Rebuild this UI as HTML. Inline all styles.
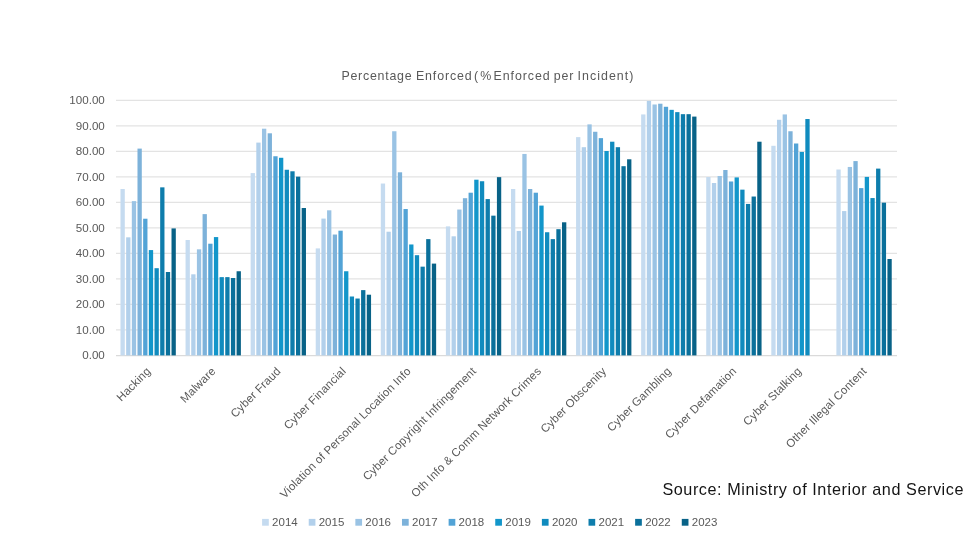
<!DOCTYPE html>
<html lang="en"><head><meta charset="utf-8"><title>Percentage Enforced</title>
<style>html,body{margin:0;padding:0;background:#fff}body{width:975px;height:548px;overflow:hidden}svg{display:block;will-change:transform;opacity:0.999}text{font-family:"Liberation Sans",Arial,sans-serif}</style></head><body>
<svg width="975" height="548" viewBox="0 0 975 548">
<rect width="975" height="548" fill="#ffffff"/>
<g stroke="#e3e3e3" stroke-width="1.1" shape-rendering="auto">
<line x1="116.0" x2="897.0" y1="329.90" y2="329.90"/>
<line x1="116.0" x2="897.0" y1="304.40" y2="304.40"/>
<line x1="116.0" x2="897.0" y1="278.90" y2="278.90"/>
<line x1="116.0" x2="897.0" y1="253.40" y2="253.40"/>
<line x1="116.0" x2="897.0" y1="227.90" y2="227.90"/>
<line x1="116.0" x2="897.0" y1="202.40" y2="202.40"/>
<line x1="116.0" x2="897.0" y1="176.90" y2="176.90"/>
<line x1="116.0" x2="897.0" y1="151.40" y2="151.40"/>
<line x1="116.0" x2="897.0" y1="125.90" y2="125.90"/>
<line x1="116.0" x2="897.0" y1="100.40" y2="100.40"/>
</g>
<line x1="116.0" x2="897.0" y1="355.59999999999997" y2="355.59999999999997" stroke="#dadada" stroke-width="1.1"/>
<g>
<rect x="120.48" y="189.01" width="4.3" height="166.39" fill="#c5dbf0"/>
<rect x="126.15" y="237.33" width="4.3" height="118.06" fill="#b2d0eb"/>
<rect x="131.82" y="201.12" width="4.3" height="154.27" fill="#9ac3e4"/>
<rect x="137.49" y="148.60" width="4.3" height="206.80" fill="#7db2da"/>
<rect x="143.16" y="218.72" width="4.3" height="136.68" fill="#52a3d6"/>
<rect x="148.83" y="250.08" width="4.3" height="105.31" fill="#1296ca"/>
<rect x="154.50" y="268.19" width="4.3" height="87.21" fill="#108bbe"/>
<rect x="160.17" y="187.35" width="4.3" height="168.04" fill="#0e7dac"/>
<rect x="165.84" y="272.01" width="4.3" height="83.39" fill="#0a709b"/>
<rect x="171.51" y="228.41" width="4.3" height="126.99" fill="#086287"/>
</g>
<g>
<rect x="185.56" y="240.01" width="4.3" height="115.39" fill="#c5dbf0"/>
<rect x="191.23" y="274.31" width="4.3" height="81.09" fill="#b2d0eb"/>
<rect x="196.90" y="249.32" width="4.3" height="106.08" fill="#9ac3e4"/>
<rect x="202.57" y="214.13" width="4.3" height="141.27" fill="#7db2da"/>
<rect x="208.24" y="243.71" width="4.3" height="111.69" fill="#52a3d6"/>
<rect x="213.91" y="237.08" width="4.3" height="118.32" fill="#1296ca"/>
<rect x="219.58" y="277.12" width="4.3" height="78.28" fill="#108bbe"/>
<rect x="225.25" y="277.12" width="4.3" height="78.28" fill="#0e7dac"/>
<rect x="230.92" y="278.01" width="4.3" height="77.39" fill="#0a709b"/>
<rect x="236.59" y="271.25" width="4.3" height="84.15" fill="#086287"/>
</g>
<g>
<rect x="250.64" y="173.08" width="4.3" height="182.32" fill="#c5dbf0"/>
<rect x="256.31" y="142.60" width="4.3" height="212.80" fill="#b2d0eb"/>
<rect x="261.98" y="128.70" width="4.3" height="226.69" fill="#9ac3e4"/>
<rect x="267.65" y="133.30" width="4.3" height="222.10" fill="#7db2da"/>
<rect x="273.32" y="156.25" width="4.3" height="199.15" fill="#52a3d6"/>
<rect x="278.99" y="157.78" width="4.3" height="197.62" fill="#1296ca"/>
<rect x="284.66" y="169.76" width="4.3" height="185.64" fill="#108bbe"/>
<rect x="290.33" y="171.29" width="4.3" height="184.11" fill="#0e7dac"/>
<rect x="296.00" y="176.65" width="4.3" height="178.75" fill="#0a709b"/>
<rect x="301.67" y="208.01" width="4.3" height="147.39" fill="#086287"/>
</g>
<g>
<rect x="315.73" y="248.40" width="4.3" height="107.00" fill="#c5dbf0"/>
<rect x="321.40" y="218.59" width="4.3" height="136.81" fill="#b2d0eb"/>
<rect x="327.07" y="210.31" width="4.3" height="145.09" fill="#9ac3e4"/>
<rect x="332.74" y="234.53" width="4.3" height="120.87" fill="#7db2da"/>
<rect x="338.41" y="230.70" width="4.3" height="124.69" fill="#52a3d6"/>
<rect x="344.08" y="271.25" width="4.3" height="84.15" fill="#1296ca"/>
<rect x="349.75" y="296.50" width="4.3" height="58.91" fill="#108bbe"/>
<rect x="355.42" y="298.53" width="4.3" height="56.87" fill="#0e7dac"/>
<rect x="361.09" y="290.12" width="4.3" height="65.28" fill="#0a709b"/>
<rect x="366.76" y="294.71" width="4.3" height="60.69" fill="#086287"/>
</g>
<g>
<rect x="380.81" y="183.53" width="4.3" height="171.87" fill="#c5dbf0"/>
<rect x="386.48" y="231.72" width="4.3" height="123.67" fill="#b2d0eb"/>
<rect x="392.15" y="131.25" width="4.3" height="224.15" fill="#9ac3e4"/>
<rect x="397.82" y="172.31" width="4.3" height="183.09" fill="#7db2da"/>
<rect x="403.49" y="209.03" width="4.3" height="146.37" fill="#52a3d6"/>
<rect x="409.16" y="244.47" width="4.3" height="110.92" fill="#1296ca"/>
<rect x="414.83" y="255.19" width="4.3" height="100.21" fill="#108bbe"/>
<rect x="420.50" y="266.66" width="4.3" height="88.74" fill="#0e7dac"/>
<rect x="426.17" y="239.12" width="4.3" height="116.28" fill="#0a709b"/>
<rect x="431.84" y="263.60" width="4.3" height="91.80" fill="#086287"/>
</g>
<g>
<rect x="445.89" y="226.37" width="4.3" height="129.03" fill="#c5dbf0"/>
<rect x="451.56" y="236.31" width="4.3" height="119.08" fill="#b2d0eb"/>
<rect x="457.23" y="209.54" width="4.3" height="145.86" fill="#9ac3e4"/>
<rect x="462.90" y="198.19" width="4.3" height="157.21" fill="#7db2da"/>
<rect x="468.57" y="192.71" width="4.3" height="162.69" fill="#52a3d6"/>
<rect x="474.24" y="179.70" width="4.3" height="175.69" fill="#1296ca"/>
<rect x="479.91" y="181.24" width="4.3" height="174.16" fill="#108bbe"/>
<rect x="485.58" y="199.09" width="4.3" height="156.31" fill="#0e7dac"/>
<rect x="491.25" y="215.66" width="4.3" height="139.74" fill="#0a709b"/>
<rect x="496.92" y="177.15" width="4.3" height="178.25" fill="#086287"/>
</g>
<g>
<rect x="510.98" y="189.01" width="4.3" height="166.39" fill="#c5dbf0"/>
<rect x="516.65" y="230.96" width="4.3" height="124.44" fill="#b2d0eb"/>
<rect x="522.32" y="153.95" width="4.3" height="201.45" fill="#9ac3e4"/>
<rect x="527.99" y="189.01" width="4.3" height="166.39" fill="#7db2da"/>
<rect x="533.66" y="192.71" width="4.3" height="162.69" fill="#52a3d6"/>
<rect x="539.33" y="205.59" width="4.3" height="149.81" fill="#1296ca"/>
<rect x="545.00" y="232.24" width="4.3" height="123.16" fill="#108bbe"/>
<rect x="550.67" y="239.12" width="4.3" height="116.28" fill="#0e7dac"/>
<rect x="556.34" y="229.18" width="4.3" height="126.22" fill="#0a709b"/>
<rect x="562.01" y="222.29" width="4.3" height="133.11" fill="#086287"/>
</g>
<g>
<rect x="576.06" y="137.12" width="4.3" height="218.28" fill="#c5dbf0"/>
<rect x="581.73" y="147.19" width="4.3" height="208.21" fill="#b2d0eb"/>
<rect x="587.40" y="124.37" width="4.3" height="231.03" fill="#9ac3e4"/>
<rect x="593.07" y="131.76" width="4.3" height="223.63" fill="#7db2da"/>
<rect x="598.74" y="138.14" width="4.3" height="217.26" fill="#52a3d6"/>
<rect x="604.41" y="151.02" width="4.3" height="204.38" fill="#1296ca"/>
<rect x="610.08" y="141.71" width="4.3" height="213.69" fill="#108bbe"/>
<rect x="615.75" y="147.19" width="4.3" height="208.21" fill="#0e7dac"/>
<rect x="621.42" y="166.19" width="4.3" height="189.21" fill="#0a709b"/>
<rect x="627.09" y="159.30" width="4.3" height="196.09" fill="#086287"/>
</g>
<g>
<rect x="641.14" y="114.43" width="4.3" height="240.97" fill="#c5dbf0"/>
<rect x="646.81" y="100.91" width="4.3" height="254.49" fill="#b2d0eb"/>
<rect x="652.48" y="104.48" width="4.3" height="250.92" fill="#9ac3e4"/>
<rect x="658.15" y="103.72" width="4.3" height="251.68" fill="#7db2da"/>
<rect x="663.82" y="106.78" width="4.3" height="248.62" fill="#52a3d6"/>
<rect x="669.49" y="109.84" width="4.3" height="245.56" fill="#1296ca"/>
<rect x="675.16" y="112.13" width="4.3" height="243.27" fill="#108bbe"/>
<rect x="680.83" y="114.17" width="4.3" height="241.23" fill="#0e7dac"/>
<rect x="686.50" y="114.17" width="4.3" height="241.23" fill="#0a709b"/>
<rect x="692.17" y="116.59" width="4.3" height="238.81" fill="#086287"/>
</g>
<g>
<rect x="706.23" y="177.00" width="4.3" height="178.40" fill="#c5dbf0"/>
<rect x="711.90" y="183.02" width="4.3" height="172.38" fill="#b2d0eb"/>
<rect x="717.57" y="176.01" width="4.3" height="179.39" fill="#9ac3e4"/>
<rect x="723.24" y="170.01" width="4.3" height="185.38" fill="#7db2da"/>
<rect x="728.91" y="181.49" width="4.3" height="173.91" fill="#52a3d6"/>
<rect x="734.58" y="177.41" width="4.3" height="177.99" fill="#1296ca"/>
<rect x="740.25" y="189.65" width="4.3" height="165.75" fill="#108bbe"/>
<rect x="745.92" y="203.93" width="4.3" height="151.47" fill="#0e7dac"/>
<rect x="751.59" y="196.53" width="4.3" height="158.86" fill="#0a709b"/>
<rect x="757.26" y="141.71" width="4.3" height="213.69" fill="#086287"/>
</g>
<g>
<rect x="771.31" y="145.79" width="4.3" height="209.61" fill="#c5dbf0"/>
<rect x="776.98" y="119.78" width="4.3" height="235.62" fill="#b2d0eb"/>
<rect x="782.65" y="114.43" width="4.3" height="240.97" fill="#9ac3e4"/>
<rect x="788.32" y="131.25" width="4.3" height="224.15" fill="#7db2da"/>
<rect x="793.99" y="143.50" width="4.3" height="211.90" fill="#52a3d6"/>
<rect x="799.66" y="151.91" width="4.3" height="203.49" fill="#1296ca"/>
<rect x="805.33" y="119.02" width="4.3" height="236.38" fill="#108bbe"/>
</g>
<g>
<rect x="836.39" y="169.50" width="4.3" height="185.90" fill="#c5dbf0"/>
<rect x="842.06" y="211.07" width="4.3" height="144.33" fill="#b2d0eb"/>
<rect x="847.73" y="166.95" width="4.3" height="188.44" fill="#9ac3e4"/>
<rect x="853.40" y="161.09" width="4.3" height="194.31" fill="#7db2da"/>
<rect x="859.07" y="188.12" width="4.3" height="167.28" fill="#52a3d6"/>
<rect x="864.74" y="176.90" width="4.3" height="178.50" fill="#1296ca"/>
<rect x="870.41" y="198.06" width="4.3" height="157.33" fill="#108bbe"/>
<rect x="876.08" y="168.61" width="4.3" height="186.79" fill="#0e7dac"/>
<rect x="881.75" y="202.66" width="4.3" height="152.74" fill="#0a709b"/>
<rect x="887.42" y="259.01" width="4.3" height="96.39" fill="#086287"/>
</g>
<g font-size="11.6" fill="#595959" text-anchor="end">
<text x="104.8" y="359.10">0.00</text>
<text x="104.8" y="333.60">10.00</text>
<text x="104.8" y="308.10">20.00</text>
<text x="104.8" y="282.60">30.00</text>
<text x="104.8" y="257.10">40.00</text>
<text x="104.8" y="231.60">50.00</text>
<text x="104.8" y="206.10">60.00</text>
<text x="104.8" y="180.60">70.00</text>
<text x="104.8" y="155.10">80.00</text>
<text x="104.8" y="129.60">90.00</text>
<text x="104.8" y="104.10">100.00</text>
</g>
<g font-size="11.5" fill="#595959" text-anchor="end" letter-spacing="0.15">
<text transform="translate(151.34,371.9) rotate(-45)">Hacking</text>
<text transform="translate(216.43,371.9) rotate(-45)">Malware</text>
<text transform="translate(281.51,371.9) rotate(-45)">Cyber Fraud</text>
<text transform="translate(346.59,371.9) rotate(-45)">Cyber Financial</text>
<text transform="translate(411.68,371.9) rotate(-45)">Violation of Personal Location Info</text>
<text transform="translate(476.76,371.9) rotate(-45)">Cyber Copyright Infringement</text>
<text transform="translate(541.84,371.9) rotate(-45)">Oth Info &amp; Comm Network Crimes</text>
<text transform="translate(606.92,371.9) rotate(-45)">Cyber Obscenity</text>
<text transform="translate(672.01,371.9) rotate(-45)">Cyber Gambling</text>
<text transform="translate(737.09,371.9) rotate(-45)">Cyber Defamation</text>
<text transform="translate(802.17,371.9) rotate(-45)">Cyber Stalking</text>
<text transform="translate(867.26,371.9) rotate(-45)">Other Illegal Content</text>
</g>
<text y="80.4" font-size="12.4" fill="#595959">
<tspan x="341.40" textLength="70.20" lengthAdjust="spacing">Percentage</tspan>
<tspan x="415.90" textLength="55.80" lengthAdjust="spacing">Enforced</tspan>
<tspan x="474.00" textLength="17.40" lengthAdjust="spacing">(%</tspan>
<tspan x="493.50" textLength="56.20" lengthAdjust="spacing">Enforced</tspan>
<tspan x="553.80" textLength="19.60" lengthAdjust="spacing">per</tspan>
<tspan x="577.60" textLength="55.80" lengthAdjust="spacing">Incident)</tspan>
</text>
<g font-size="11.5" fill="#595959">
<rect x="262.10" y="518.9" width="6.7" height="6.8" fill="#c5dbf0"/>
<text x="272.10" y="525.8">2014</text>
<rect x="308.73" y="518.9" width="6.7" height="6.8" fill="#b2d0eb"/>
<text x="318.73" y="525.8">2015</text>
<rect x="355.36" y="518.9" width="6.7" height="6.8" fill="#9ac3e4"/>
<text x="365.36" y="525.8">2016</text>
<rect x="401.99" y="518.9" width="6.7" height="6.8" fill="#7db2da"/>
<text x="411.99" y="525.8">2017</text>
<rect x="448.62" y="518.9" width="6.7" height="6.8" fill="#52a3d6"/>
<text x="458.62" y="525.8">2018</text>
<rect x="495.25" y="518.9" width="6.7" height="6.8" fill="#1296ca"/>
<text x="505.25" y="525.8">2019</text>
<rect x="541.88" y="518.9" width="6.7" height="6.8" fill="#108bbe"/>
<text x="551.88" y="525.8">2020</text>
<rect x="588.51" y="518.9" width="6.7" height="6.8" fill="#0e7dac"/>
<text x="598.51" y="525.8">2021</text>
<rect x="635.14" y="518.9" width="6.7" height="6.8" fill="#0a709b"/>
<text x="645.14" y="525.8">2022</text>
<rect x="681.77" y="518.9" width="6.7" height="6.8" fill="#086287"/>
<text x="691.77" y="525.8">2023</text>
</g>
<text x="662.4" y="494.8" font-size="16.2" fill="#141414" textLength="301" lengthAdjust="spacing">Source: Ministry of Interior and Service</text>
</svg></body></html>
